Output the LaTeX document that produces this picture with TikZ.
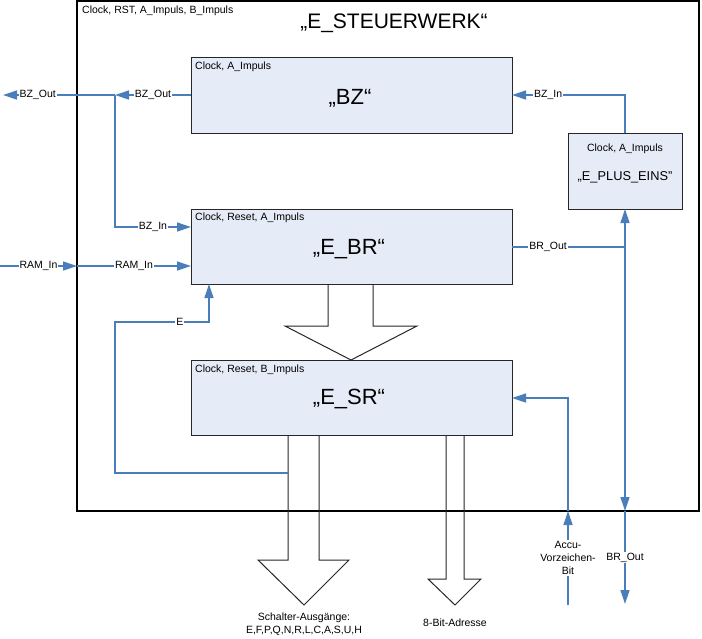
\documentclass[tikz,border=0pt]{standalone}
\usepackage{fontspec}
\setmainfont{Liberation Sans}
\usetikzlibrary{arrows.meta,calc}
\definecolor{lnblue}{HTML}{4A7EBB}
\definecolor{boxfill}{HTML}{E6ECF7}
\newcommand\lblfont{\fontsize{10.5}{13}\selectfont}
\newcommand\bigtitlefont{\fontsize{21}{25}\selectfont}
\newcommand\boxtitlefont{\fontsize{22}{26}\selectfont}
\newcommand\midtitlefont{\fontsize{12.8}{15}\selectfont}
\begin{document}
\begin{tikzpicture}[x=1pt,y=-1pt,
  box/.style={draw=black!85, line width=1pt, fill=boxfill, anchor=north west, inner sep=0pt, outer sep=0pt},
  conn/.style={draw=lnblue, line width=1.3pt, -{Triangle[length=14pt,width=9pt]}},
  wire/.style={draw=lnblue, line width=1.3pt},
  lbl/.style={fill=white, inner sep=1pt, font=\lblfont},
  txt/.style={inner sep=0pt, font=\lblfont},
  blockarrow/.style={draw=black!85, line width=1pt, line join=miter}
  ]
\useasboundingbox (0,0) rectangle (702,638);

% outer frame
\node[draw=black, line width=1.5pt, minimum width=622pt, minimum height=510pt,
      anchor=north west, inner sep=0pt, outer sep=0pt] (outer) at (77,1) {};
\node[txt, anchor=west] (outerlbl) at (82,11) {Clock, RST, A\_Impuls, B\_Impuls};
\node[anchor=base, inner sep=0pt, font=\bigtitlefont] (title) at (394,28) {„E\_STEUERWERK“};

% boxes
\node[box, minimum width=321pt, minimum height=76pt] (bz) at (191,57) {};
\node[box, minimum width=114pt, minimum height=76pt] (epe) at (568,133) {};
\node[box, minimum width=321pt, minimum height=75pt] (br) at (191,209) {};
\node[box, minimum width=321pt, minimum height=75pt] (sr) at (191,360) {};

\node[txt, anchor=west] (bzlbl) at ($(bz.north west)+(4,10)$) {Clock, A\_Impuls};
\node[anchor=base, inner sep=0pt, font=\boxtitlefont] (bztitle) at (350,104) {„BZ“};
\node[txt, anchor=west] (brlbl) at ($(br.north west)+(4,9)$) {Clock, Reset, A\_Impuls};
\node[anchor=base, inner sep=0pt, font=\boxtitlefont] (brtitle) at (349,254) {„E\_BR“};
\node[txt, anchor=west] (srlbl) at ($(sr.north west)+(4,10)$) {Clock, Reset, B\_Impuls};
\node[anchor=base, inner sep=0pt, font=\boxtitlefont] (srtitle) at (349,404) {„E\_SR“};
\node[txt] (epelbl) at (625,149) {Clock, A\_Impuls};
\node[inner sep=0pt, font=\midtitlefont] (epetitle) at (625,177) {„E\_PLUS\_EINS"};

% block arrows
\draw[blockarrow] (328,284) -- (328,326) -- (285,326) -- (351,360) -- (417,326) -- (373,326) -- (373,284);
\draw[blockarrow] (288,435) -- (288,560) -- (258,560) -- (304,605) -- (349,560) -- (319,560) -- (319,435);
\draw[blockarrow] (446,435) -- (446,579) -- (428,579) -- (455,605) -- (481,579) -- (464,579) -- (464,435);
\node[txt, align=center] (schlbl) at (304,624.5) {Schalter-Ausgänge:\\E,F,P,Q,N,R,L,C,A,S,U,H};
\node[txt] (adrlbl) at (455,623) {8-Bit-Adresse};

% coordinates
\coordinate (jbz) at (115,95);
\coordinate (outL) at (3,95);
\coordinate (ybzin) at (0,227);
\coordinate (ramL) at (0,266);
\coordinate (sL) at (288,473);
\coordinate (eA) at (115,473);
\coordinate (eB) at (115,322);
\coordinate (eC) at (209,322);
\coordinate (jbr) at (625,247);
\coordinate (brEnd) at (625,604);
\coordinate (accL) at (568,605);
\coordinate (yacc) at (0,398);

% BZ_Out
\draw[conn] (bz.west) -- node[lbl]{BZ\_Out} (jbz);
\draw[conn] (jbz) -- node[lbl,pos=0.69]{BZ\_Out} (outL);
\draw[conn] (jbz) |- node[lbl,pos=0.75]{BZ\_In} (br.west |- ybzin);

% RAM_In
\draw[conn] (ramL) -- node[lbl]{RAM\_In} (outer.west |- ramL);
\draw[conn] (outer.west |- ramL) -- node[lbl]{RAM\_In} (br.west |- ramL);

% E
\draw[conn] (sL) -- (eA) -- (eB) -- node[lbl,pos=0.69]{E} (eC) -- (br.south -| eC);

% BR_Out
\draw[wire] (br.east |- jbr) -- node[lbl,pos=0.32]{BR\_Out} (jbr);
\draw[conn] (jbr) -- (epe.south);
\draw[conn] (jbr) -- (jbr |- outer.south);
\draw[conn] (jbr |- outer.south) -- node[lbl]{BR\_Out} (brEnd);

% BZ_In
\draw[conn] (epe.north) |- node[lbl,pos=0.84]{BZ\_In} (bz.east);

% Accu
\draw[conn] (accL) -- node[lbl, align=center]{Accu-\\Vorzeichen-\\Bit} (accL |- outer.south);
\draw[conn] (accL |- outer.south) |- (sr.east |- yacc);
\end{tikzpicture}
\end{document}
